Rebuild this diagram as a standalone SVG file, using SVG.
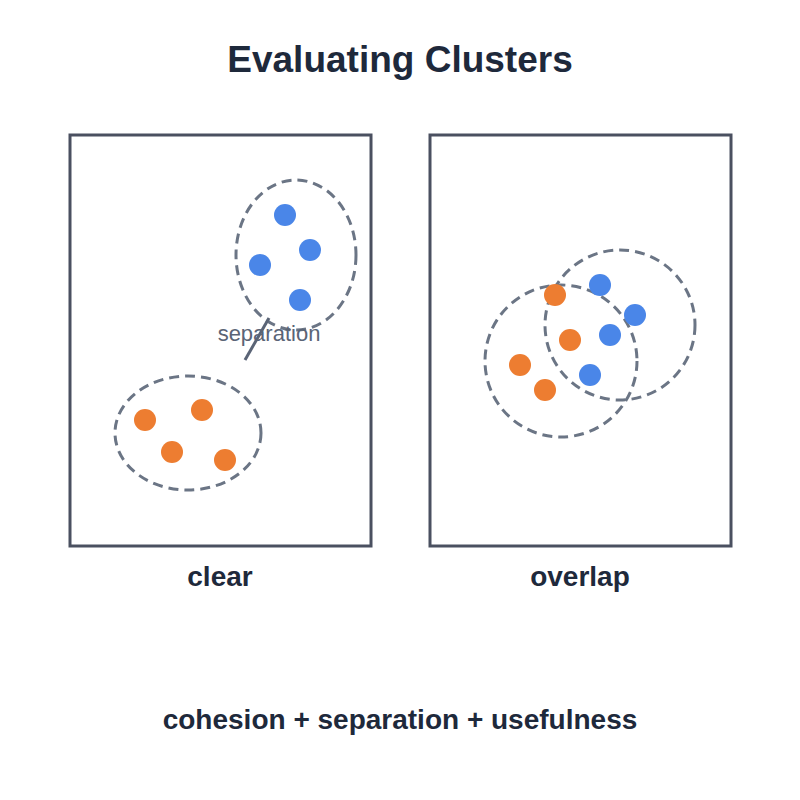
<svg xmlns="http://www.w3.org/2000/svg" width="800" height="800" viewBox="0 0 800 800">
<style>
.frame{fill:none;stroke:#4a5060;stroke-width:3}
.hull{fill:none;stroke:#6b7585;stroke-width:3;stroke-dasharray:10 6}
.o{fill:#ed7d31}.b{fill:#4a86e8}
.lbl{font-family:"Liberation Sans",Arial,sans-serif;font-weight:bold;fill:#1e293b;text-anchor:middle}
</style>
<rect width="800" height="800" fill="#fff"/>
<text class="lbl" x="400" y="72" font-size="37">Evaluating Clusters</text>
<g id="panel-clear">
<rect class="frame" x="70" y="135" width="301" height="411"/>
<ellipse class="hull" cx="296" cy="255" rx="60" ry="75"/>
<circle class="b" cx="285" cy="215" r="11"/><circle class="b" cx="310" cy="250" r="11"/><circle class="b" cx="260" cy="265" r="11"/><circle class="b" cx="300" cy="300" r="11"/>
<ellipse class="hull" cx="188" cy="433" rx="73" ry="57"/>
<circle class="o" cx="145" cy="420" r="11"/><circle class="o" cx="202" cy="410" r="11"/><circle class="o" cx="172" cy="452" r="11"/><circle class="o" cx="225" cy="460" r="11"/>
<text class="lbl" x="220" y="586" font-size="28">clear</text>
</g>
<g id="connectors">
<line x1="245" y1="360" x2="269" y2="318" stroke="#5a6476" stroke-width="3"/>
<text x="269" y="341" font-size="22" fill="#5a6476" text-anchor="middle" font-family="Liberation Sans,Arial,sans-serif">separation</text>
</g>
<g id="panel-overlap">
<rect class="frame" x="430" y="135" width="301" height="411"/>
<circle class="hull" cx="620" cy="325" r="75"/>
<circle class="hull" cx="561" cy="361" r="76"/>
<circle class="b" cx="600" cy="285" r="11"/><circle class="b" cx="635" cy="315" r="11"/><circle class="b" cx="610" cy="335" r="11"/><circle class="b" cx="590" cy="375" r="11"/>
<circle class="o" cx="555" cy="295" r="11"/><circle class="o" cx="570" cy="340" r="11"/><circle class="o" cx="520" cy="365" r="11"/><circle class="o" cx="545" cy="390" r="11"/>
<text class="lbl" x="580" y="586" font-size="28">overlap</text>
</g>
<text class="lbl" x="400" y="729" font-size="28">cohesion + separation + usefulness</text>
</svg>
